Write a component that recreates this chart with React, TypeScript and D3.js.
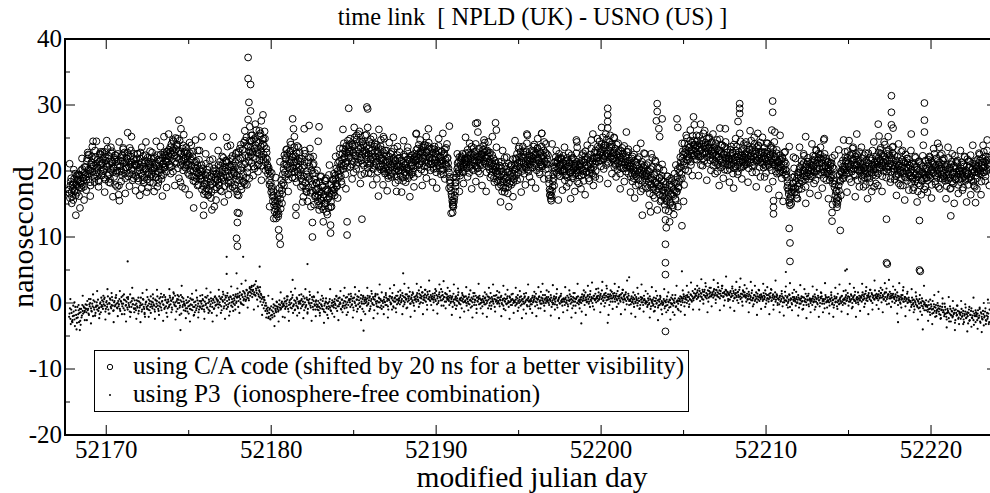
import React from "react";
import * as d3 from "d3";

// ---------- data ----------
const title = "time link  [ NPLD (UK) - USNO (US) ]";
const xLabel = "modified julian day";
const yLabel = "nanosecond";
const xMajorTicks = [52170, 52180, 52190, 52200, 52210, 52220];
const xMinorTicks = [52175, 52185, 52195, 52205, 52215];
const yMajorTicks = [-20, -10, 0, 10, 20, 30, 40];
const yMinorTicks = [-15, -5, 5, 15, 25, 35];
const legendLabels = [
  "using C/A code (shifted by 20 ns for a better visibility)",
  "using P3  (ionosphere-free combination)",
];

// sampling: one row per day starting at firstDay.
// A / B rows: 20 samples per day (B half a step after A); C rows: 8 samples per day.
const firstDay = 52167.75;
const lastDay = 52223.55;

// C/A code (shifted by +20 ns)
const caRowsA: number[][] = [
  [17.2, 15.9, 18.4, 16.8, 17.9, 15.6, 18.8, 17.1, 16.3, 19.2, 17.7, 18.6, 16.2, 19.4, 18.1, 17.4, 20.3, 18.9, 17.6, 19.8],
  [20.6, 18.7, 21.9, 19.5, 22.4, 20.1, 17.8, 21.3, 19.9, 24.5, 20.8, 18.9, 22.1, 20.4, 19.2, 21.7, 18.4, 22.6, 20.0, 21.2],
  [19.6, 21.8, 20.3, 22.9, 18.7, 21.1, 20.6, 19.3, 22.3, 20.9, 18.2, 21.5, 23.0, 19.8, 20.4, 22.0, 17.9, 21.4, 20.1, 22.6],
  [16.4, 15.5, 20.7, 22.1, 19.4, 21.6, 20.2, 22.8, 18.9, 21.3, 20.5, 25.8, 22.4, 19.7, 21.0, 23.1, 20.3, 18.6, 21.8, 20.9],
  [21.5, 19.2, 20.8, 22.6, 18.5, 20.1, 21.9, 19.6, 17.4, 20.7, 22.3, 19.0, 21.2, 20.4, 16.8, 22.0, 19.8, 21.4, 18.3, 20.6],
  [19.5, 21.3, 18.2, 20.6, 22.1, 19.0, 20.9, 17.6, 21.7, 19.8, 20.3, 22.5, 18.8, 21.0, 19.4, 22.8, 20.5, 21.6, 19.9, 23.0],
  [21.4, 23.2, 20.6, 22.9, 24.1, 21.8, 19.9, 23.5, 22.3, 25.0, 21.1, 23.8, 20.4, 27.7, 24.6, 18.3, 22.7, 17.6, 23.9, 21.6],
  [22.8, 20.5, 23.6, 21.3, 19.7, 22.4, 24.3, 20.1, 21.8, 19.2, 22.9, 14.4, 20.6, 18.4, 21.5, 19.8, 23.1, 17.9, 20.3, 18.8],
  [19.3, 17.2, 20.4, 13.3, 18.6, 16.9, 21.1, 18.0, 19.7, 16.4, 20.6, 17.8, 15.9, 19.1, 21.8, 25.2, 14.6, 18.3, 20.0, 17.5],
  [18.7, 20.9, 17.8, 21.4, 19.2, 16.9, 20.3, 22.0, 18.5, 19.9, 21.6, 25.1, 23.7, 18.1, 20.7, 17.4, 21.9, 19.6, 22.3, 20.2],
  [20.8, 17.9, 22.6, 19.3, 16.4, 21.7, 18.6, 23.4, 20.1, 17.2, 22.0, 19.5, 24.3, 18.0, 21.2, 25.1, 19.8, 23.7, 21.5, 24.6],
  [23.6, 21.2, 25.4, 22.1, 24.8, 20.4, 23.9, 26.2, 22.7, 19.9, 24.3, 21.6, 25.7, 23.0, 20.8, 24.1, 22.5, 26.0, 21.3, 23.4],
  [21.8, 19.6, 20.5, 17.9, 19.2, 16.8, 17.6, 15.4, 16.3, 13.9, 15.1, 12.8, 14.6, 16.2, 13.5, 17.4, 15.8, 18.6, 17.1, 19.5],
  [20.3, 22.4, 19.1, 21.8, 23.3, 20.6, 18.7, 22.9, 21.2, 24.0, 19.8, 22.1, 20.5, 23.6, 18.9, 21.4, 22.7, 20.0, 19.4, 21.9],
  [20.2, 17.6, 21.9, 18.4, 16.1, 20.8, 22.6, 17.3, 19.5, 15.4, 21.3, 18.8, 23.4, 16.7, 20.1, 18.0, 22.2, 14.9, 19.7, 17.1],
  [18.2, 16.0, 17.4, 14.8, 16.9, 19.1, 15.5, 17.8, 14.2, 16.4, 18.6, 15.1, 13.8, 17.2, 15.8, 19.4, 16.6, 14.5, 18.0, 17.0],
  [17.5, 19.6, 16.3, 18.9, 20.4, 17.8, 21.2, 19.0, 22.5, 20.1, 18.4, 21.7, 23.4, 20.8, 22.2, 19.5, 23.8, 21.4, 24.6, 22.0],
  [22.9, 20.6, 24.2, 21.5, 23.7, 19.8, 25.1, 22.3, 20.9, 24.8, 21.8, 23.3, 26.0, 22.0, 19.4, 24.5, 21.1, 23.9, 22.6, 25.4],
  [21.7, 23.8, 20.5, 22.6, 24.4, 21.2, 19.6, 23.1, 22.0, 25.2, 20.8, 22.9, 21.4, 24.0, 19.9, 23.5, 22.3, 20.7, 24.7, 21.6],
  [21.9, 20.2, 22.7, 19.6, 21.3, 23.1, 20.7, 18.9, 22.2, 21.0, 19.4, 22.9, 20.5, 21.8, 23.4, 19.9, 21.5, 20.3, 22.4, 18.6],
  [20.1, 22.0, 19.2, 21.4, 20.6, 18.5, 22.5, 19.8, 21.1, 20.3, 23.0, 18.9, 21.7, 20.0, 22.3, 19.5, 20.9, 21.8, 19.1, 22.1],
  [21.5, 23.2, 20.8, 22.6, 24.0, 21.1, 22.9, 20.2, 23.6, 21.9, 22.4, 19.9, 23.9, 21.3, 22.8, 20.6, 24.3, 22.1, 21.0, 23.4],
  [21.1, 22.8, 20.3, 23.3, 21.7, 19.8, 22.5, 20.9, 23.8, 21.4, 22.2, 20.0, 23.0, 21.6, 19.5, 22.7, 21.0, 23.5, 20.6, 22.0],
  [20.4, 19.1, 18.2, 17.0, 16.1, 15.2, 14.6, 15.8, 16.9, 18.3, 19.6, 21.2, 20.0, 22.1, 19.3, 21.6, 20.5, 22.6, 19.8, 21.3],
  [21.0, 22.7, 20.4, 23.2, 21.8, 19.7, 22.5, 20.9, 23.7, 21.3, 20.1, 22.9, 21.6, 24.1, 20.6, 22.2, 19.9, 23.4, 21.2, 22.0],
  [22.6, 20.9, 23.8, 21.5, 24.3, 22.0, 19.8, 23.1, 21.3, 22.7, 20.2, 21.8, 19.4, 22.4, 20.7, 18.9, 21.6, 19.9, 20.5, 18.4],
  [19.5, 17.6, 20.8, 18.3, 21.4, 16.9, 19.9, 18.7, 22.0, 17.4, 20.3, 19.0, 16.6, 21.1, 18.1, 20.6, 17.9, 19.7, 21.8, 18.8],
  [20.2, 21.9, 19.3, 22.6, 20.7, 23.4, 21.4, 18.8, 22.2, 20.0, 23.7, 21.1, 19.6, 22.9, 20.5, 24.2, 21.7, 19.9, 22.4, 21.0],
  [21.8, 23.1, 20.5, 22.4, 24.0, 21.2, 22.8, 20.1, 23.5, 21.6, 19.8, 22.9, 21.0, 23.7, 20.7, 22.2, 24.4, 21.4, 20.3, 22.6],
  [21.0, 19.4, 18.1, 16.4, 15.8, 16.2, 17.6, 19.5, 21.3, 20.0, 22.1, 19.7, 21.6, 20.4, 22.6, 19.2, 20.9, 21.8, 19.9, 22.3],
  [20.3, 18.6, 21.5, 19.4, 22.0, 20.7, 18.2, 21.2, 19.8, 22.4, 20.1, 18.9, 21.8, 19.5, 20.6, 22.7, 18.4, 21.0, 19.3, 20.8],
  [21.1, 19.3, 22.4, 20.0, 18.5, 21.7, 23.0, 19.8, 20.9, 22.1, 18.9, 21.4, 20.3, 23.4, 19.6, 21.9, 20.6, 22.8, 19.1, 21.5],
  [22.0, 23.7, 21.4, 24.5, 22.8, 20.7, 23.3, 25.1, 21.9, 23.9, 22.4, 20.9, 24.8, 22.6, 21.2, 23.6, 25.4, 22.2, 24.0, 21.7],
  [22.3, 20.6, 23.4, 21.1, 24.0, 20.2, 22.7, 21.5, 19.6, 23.1, 21.9, 22.6, 20.4, 23.8, 21.3, 19.9, 22.9, 20.8, 23.3, 21.6],
  [20.7, 19.1, 21.9, 18.4, 20.2, 22.5, 19.5, 17.8, 21.3, 20.0, 18.8, 22.1, 19.7, 16.9, 21.0, 18.5, 20.6, 22.7, 19.2, 17.6],
  [19.6, 17.4, 21.2, 18.8, 16.6, 20.3, 18.0, 22.0, 17.2, 19.4, 15.9, 21.4, 18.3, 16.8, 20.5, 17.7, 19.0, 15.4, 18.6, 21.0],
  [16.2, 18.4, 14.9, 17.5, 15.6, 19.2, 16.8, 13.9, 17.9, 15.2, 18.9, 16.4, 14.5, 17.2, 19.6, 15.8, 18.1, 16.9, 20.3, 17.6],
  [19.8, 22.1, 20.6, 18.9, 23.0, 21.4, 24.2, 20.2, 22.7, 25.0, 21.6, 23.5, 22.0, 24.6, 20.9, 23.2, 25.3, 22.4, 24.0, 21.8],
  [23.4, 21.7, 24.6, 22.2, 25.3, 23.0, 20.9, 24.1, 22.6, 25.7, 21.5, 23.8, 22.9, 24.9, 21.2, 23.5, 25.1, 22.4, 24.3, 23.1],
  [22.4, 20.8, 23.6, 21.3, 24.2, 22.0, 19.9, 23.1, 21.7, 24.8, 20.5, 22.7, 23.9, 21.1, 22.5, 20.2, 24.4, 21.9, 23.3, 22.1],
  [21.9, 20.3, 23.2, 21.0, 22.6, 19.6, 24.0, 21.5, 20.7, 23.7, 22.2, 19.9, 22.9, 21.3, 24.5, 20.5, 22.4, 21.7, 23.4, 20.9],
  [22.6, 21.0, 23.9, 21.8, 20.4, 23.3, 22.2, 24.6, 20.8, 22.9, 21.4, 24.1, 22.0, 19.8, 23.6, 21.6, 22.8, 20.6, 24.3, 21.9],
  [21.2, 22.9, 20.5, 23.5, 21.8, 19.7, 22.6, 24.2, 20.9, 22.3, 21.5, 23.8, 20.1, 22.7, 21.0, 24.4, 22.1, 19.9, 23.2, 21.4],
  [21.3, 19.7, 22.4, 20.6, 18.9, 21.9, 20.2, 22.8, 19.4, 21.1, 20.0, 18.3, 17.1, 15.6, 14.8, 16.2, 17.5, 19.0, 18.2, 20.4],
  [16.8, 18.5, 15.9, 17.7, 19.8, 18.1, 20.6, 19.0, 21.5, 18.4, 20.1, 22.3, 19.3, 17.6, 21.0, 19.7, 22.0, 18.8, 20.5, 19.2],
  [20.9, 19.2, 22.3, 20.0, 21.6, 18.6, 23.1, 20.4, 19.5, 22.0, 21.2, 23.6, 19.8, 21.7, 20.3, 18.9, 22.6, 20.7, 21.9, 19.6],
  [19.9, 21.4, 18.6, 20.8, 19.3, 22.0, 18.1, 20.4, 17.5, 16.3, 15.2, 14.5, 16.0, 17.8, 19.5, 18.4, 21.1, 19.7, 20.6, 18.9],
  [20.2, 22.1, 19.5, 21.6, 23.0, 20.7, 18.8, 22.4, 21.0, 19.9, 23.4, 20.4, 21.8, 19.3, 22.7, 20.9, 18.6, 21.5, 22.9, 20.1],
  [20.6, 18.8, 21.9, 19.5, 22.4, 20.1, 17.9, 21.3, 19.0, 22.7, 20.4, 18.3, 21.6, 19.7, 23.1, 20.9, 17.6, 21.0, 19.3, 22.2],
  [21.4, 19.6, 22.8, 20.5, 23.5, 21.1, 19.2, 22.3, 20.7, 24.0, 21.8, 19.9, 22.6, 20.2, 23.2, 21.5, 18.8, 22.0, 20.9, 23.7],
  [20.3, 18.7, 21.6, 19.4, 22.2, 20.8, 18.1, 21.1, 19.8, 22.9, 20.0, 17.8, 21.4, 19.1, 22.5, 20.6, 18.5, 21.9, 19.6, 20.9],
  [19.8, 18.2, 21.1, 19.0, 17.5, 20.6, 22.0, 18.7, 20.2, 16.9, 21.4, 19.4, 17.8, 20.9, 18.5, 22.3, 19.6, 17.2, 20.4, 18.9],
  [20.4, 18.6, 21.7, 19.3, 22.1, 20.0, 17.9, 21.2, 19.7, 22.6, 18.4, 20.8, 19.1, 21.5, 17.6, 20.3, 22.4, 19.5, 21.0, 18.8],
  [19.2, 21.0, 18.5, 20.6, 17.7, 19.9, 22.0, 18.9, 20.3, 17.4, 21.4, 19.5, 18.1, 20.8, 22.3, 18.7, 19.8, 21.6, 17.9, 20.1],
  [20.0, 18.3, 21.3, 19.6, 17.5, 20.7, 22.1, 18.8, 19.4, 21.8, 17.9, 20.5, 19.0, 22.4, 18.6, 20.2, 21.1, 17.8, 19.9, 21.5],
  [20.4, 18.9, 21.8, 19.6, 22.5, 20.1, 18.4, 21.3, 19.8, 22.9, 20.6, 19.2, 21.6, 23.1, 20.3, 22.0, 21.2, 19.7, 20.8, 22.4],
];

const caRowsB: number[][] = [
  [16.6, 17.8, 18.9, 16.1, 17.3, 18.2, 16.9, 19.6, 18.0, 16.7, 18.7, 19.3, 17.5, 18.4, 20.1, 17.9, 19.0, 18.5, 20.6, 19.4],
  [19.1, 21.5, 22.8, 20.2, 19.6, 18.3, 21.0, 22.2, 20.7, 19.4, 21.8, 23.1, 21.1, 19.8, 20.5, 18.6, 21.4, 20.9, 22.5, 19.3],
  [21.2, 20.0, 19.0, 22.2, 21.6, 20.7, 23.4, 21.9, 19.5, 18.8, 20.2, 22.7, 21.3, 20.6, 19.1, 21.7, 22.4, 19.7, 20.9, 21.5],
  [17.8, 19.9, 21.5, 20.0, 22.4, 23.3, 21.2, 19.6, 20.6, 22.0, 21.8, 19.2, 20.7, 23.5, 22.2, 21.4, 19.5, 20.1, 22.6, 21.1],
  [20.9, 21.8, 19.9, 18.9, 21.1, 20.5, 22.8, 21.3, 19.3, 18.6, 20.0, 21.6, 22.4, 20.3, 18.7, 19.5, 21.2, 20.8, 19.1, 21.9],
  [20.1, 19.2, 21.9, 20.4, 19.6, 21.2, 22.4, 20.0, 18.7, 20.7, 21.5, 19.3, 20.2, 22.0, 21.1, 20.6, 22.3, 21.4, 22.9, 21.8],
  [22.2, 21.0, 23.6, 22.5, 20.7, 23.1, 24.5, 22.8, 21.4, 23.3, 22.0, 24.9, 23.0, 21.8, 22.6, 20.9, 21.5, 23.4, 22.1, 20.8],
  [21.9, 23.0, 20.9, 22.1, 21.0, 19.4, 22.7, 21.6, 20.8, 22.2, 20.0, 19.1, 21.3, 20.4, 18.9, 20.9, 19.6, 21.7, 19.3, 20.0],
  [18.8, 19.9, 17.7, 16.5, 18.1, 19.4, 17.4, 20.2, 18.9, 17.1, 19.2, 18.4, 16.8, 18.0, 20.0, 19.5, 17.2, 18.9, 19.6, 18.6],
  [19.4, 18.2, 20.0, 20.8, 18.8, 19.7, 21.1, 19.0, 17.7, 20.5, 19.3, 21.3, 20.1, 18.6, 19.2, 20.6, 18.3, 20.9, 21.7, 19.8],
  [19.6, 21.4, 18.7, 16.9, 20.3, 22.9, 19.1, 21.9, 17.7, 20.6, 23.2, 18.3, 21.0, 22.4, 19.0, 23.9, 20.5, 22.2, 18.9, 22.8],
  [22.4, 24.6, 22.9, 20.7, 23.4, 25.0, 21.9, 24.4, 23.2, 21.0, 22.6, 25.3, 23.7, 22.2, 24.7, 21.7, 23.8, 24.9, 22.0, 22.8],
  [20.9, 20.2, 18.6, 19.9, 18.2, 17.3, 16.2, 16.9, 14.8, 15.6, 14.2, 13.4, 15.4, 13.1, 15.0, 16.6, 14.3, 17.9, 16.5, 18.2],
  [21.0, 19.8, 22.0, 20.9, 22.6, 19.5, 21.5, 20.2, 23.1, 21.7, 20.4, 22.5, 21.3, 19.9, 22.2, 20.8, 23.8, 21.6, 20.6, 22.8],
  [19.4, 18.9, 20.5, 17.8, 19.2, 21.4, 18.2, 16.9, 20.0, 19.1, 17.5, 20.7, 22.0, 18.5, 17.0, 19.6, 21.1, 18.7, 16.3, 18.2],
  [17.2, 15.4, 16.3, 18.4, 15.9, 16.7, 14.6, 17.5, 16.0, 15.0, 17.1, 18.9, 15.6, 16.9, 14.4, 16.1, 17.9, 15.3, 16.5, 18.7],
  [18.6, 17.2, 19.3, 18.1, 17.6, 20.0, 19.5, 21.5, 20.6, 19.2, 21.1, 22.6, 20.3, 21.9, 23.0, 21.2, 22.8, 20.6, 23.3, 23.9],
  [23.2, 22.1, 21.0, 24.0, 22.8, 21.4, 23.9, 22.4, 25.4, 23.0, 21.3, 22.7, 24.4, 23.5, 21.6, 22.9, 24.1, 20.8, 23.1, 22.3],
  [22.8, 21.1, 22.3, 23.4, 20.9, 21.8, 24.1, 22.6, 20.3, 21.5, 23.7, 22.2, 21.0, 23.0, 22.7, 20.6, 21.9, 23.8, 22.0, 23.2],
  [20.8, 21.6, 19.9, 20.4, 22.3, 21.5, 19.3, 20.1, 21.7, 22.6, 20.6, 19.7, 21.2, 22.0, 20.9, 21.6, 19.2, 20.7, 21.9, 20.0],
  [20.8, 19.6, 21.6, 20.2, 19.0, 21.2, 20.9, 22.2, 19.4, 20.5, 21.8, 20.1, 19.3, 22.0, 20.7, 21.3, 19.8, 20.4, 22.6, 20.9],
  [22.2, 21.6, 23.4, 21.9, 20.9, 22.5, 23.0, 21.4, 22.8, 23.6, 20.7, 22.3, 21.7, 22.9, 23.8, 21.2, 22.0, 23.2, 21.5, 22.6],
  [21.8, 20.6, 22.1, 21.3, 22.6, 20.4, 21.2, 23.1, 22.0, 20.8, 21.5, 22.9, 21.1, 20.2, 22.4, 23.3, 21.7, 20.9, 21.9, 21.2],
  [19.8, 18.6, 17.6, 16.5, 15.5, 14.9, 15.3, 16.3, 17.7, 19.0, 20.3, 20.6, 21.4, 19.7, 20.9, 22.2, 19.9, 21.1, 20.6, 21.8],
  [21.6, 20.9, 22.0, 21.4, 22.8, 20.6, 21.9, 22.6, 20.3, 21.7, 22.4, 21.2, 20.8, 22.9, 21.5, 20.4, 22.2, 21.8, 20.9, 22.5],
  [22.1, 23.2, 21.4, 22.8, 21.1, 23.0, 21.9, 22.4, 20.6, 21.5, 22.8, 20.9, 21.2, 20.3, 21.9, 20.1, 20.7, 21.2, 19.6, 20.0],
  [18.6, 19.9, 19.2, 17.9, 20.4, 18.5, 17.5, 19.3, 20.7, 18.9, 18.2, 19.8, 17.6, 20.0, 19.4, 18.4, 20.9, 19.1, 18.3, 19.6],
  [20.9, 20.4, 21.8, 21.2, 19.8, 22.1, 20.6, 22.9, 21.5, 20.3, 21.9, 22.5, 20.7, 21.3, 23.0, 21.0, 20.2, 22.0, 21.6, 20.5],
  [22.2, 21.4, 21.9, 23.0, 20.8, 22.5, 21.7, 23.4, 22.0, 20.6, 21.3, 22.7, 21.9, 20.9, 22.4, 23.1, 21.5, 22.8, 21.1, 21.8],
  [20.4, 18.8, 17.2, 16.9, 15.5, 17.0, 18.4, 18.9, 20.5, 21.4, 20.7, 21.2, 19.4, 21.9, 20.8, 20.1, 22.0, 20.6, 21.3, 20.2],
  [20.0, 19.3, 20.9, 21.6, 19.0, 20.4, 21.3, 19.7, 20.6, 21.8, 19.2, 20.3, 21.1, 20.8, 19.6, 21.4, 20.1, 19.8, 20.7, 21.2],
  [20.5, 21.6, 20.1, 19.5, 21.3, 22.2, 20.4, 19.9, 21.8, 20.7, 19.7, 22.5, 21.0, 20.2, 21.4, 19.4, 22.0, 21.2, 20.0, 21.9],
  [22.8, 22.1, 23.4, 21.6, 22.9, 24.0, 22.4, 21.8, 23.5, 22.2, 23.9, 22.6, 21.4, 23.2, 24.4, 22.0, 23.0, 23.7, 21.9, 22.7],
  [21.9, 22.8, 20.9, 21.6, 22.4, 21.2, 23.0, 20.7, 22.1, 21.4, 20.4, 22.6, 21.8, 21.0, 22.2, 20.5, 21.5, 22.9, 21.1, 20.8],
  [20.3, 21.2, 19.6, 20.7, 18.9, 21.5, 20.0, 19.2, 20.9, 21.8, 19.8, 20.4, 18.6, 20.2, 21.4, 19.5, 19.9, 20.8, 18.8, 19.4],
  [19.2, 20.1, 18.4, 19.9, 17.9, 19.0, 20.6, 18.7, 17.6, 19.5, 18.2, 17.1, 19.8, 18.0, 17.3, 18.9, 16.4, 17.8, 19.3, 17.0],
  [17.1, 15.9, 16.7, 18.0, 15.4, 17.3, 16.1, 18.6, 15.0, 16.6, 17.7, 14.8, 16.2, 18.3, 17.0, 15.6, 16.8, 19.1, 17.4, 18.4],
  [20.6, 21.3, 19.5, 21.9, 22.5, 20.9, 22.8, 23.3, 21.7, 22.2, 24.0, 22.9, 23.6, 21.4, 22.6, 24.3, 23.1, 23.9, 22.3, 23.5],
  [22.8, 23.9, 22.5, 23.5, 24.1, 22.2, 23.2, 24.6, 21.9, 23.7, 22.6, 24.3, 23.4, 22.1, 24.0, 22.7, 23.6, 21.6, 23.0, 24.4],
  [21.8, 22.7, 23.1, 21.5, 22.4, 23.4, 21.0, 22.2, 23.0, 21.6, 22.9, 21.3, 20.8, 22.6, 23.7, 22.0, 21.4, 22.8, 20.9, 21.7],
  [21.5, 22.4, 20.8, 21.8, 22.8, 21.2, 20.4, 22.1, 23.1, 21.6, 20.9, 22.5, 21.9, 20.6, 22.3, 23.0, 21.4, 20.7, 22.0, 21.3],
  [22.0, 22.9, 21.5, 22.4, 23.2, 21.2, 22.7, 21.8, 23.5, 22.2, 20.9, 22.6, 23.0, 21.6, 22.3, 23.8, 21.9, 22.5, 21.3, 22.8],
  [21.7, 21.0, 22.3, 22.8, 20.8, 21.5, 23.0, 22.0, 21.2, 20.6, 22.5, 21.9, 21.3, 23.3, 22.2, 20.9, 21.6, 22.7, 21.1, 20.5],
  [20.6, 21.7, 20.0, 21.0, 22.1, 19.8, 20.9, 21.4, 20.2, 19.5, 19.0, 17.8, 16.5, 15.2, 15.9, 15.0, 16.8, 18.1, 17.3, 19.2],
  [17.4, 16.4, 18.9, 19.4, 17.2, 20.3, 19.8, 18.6, 20.9, 19.6, 21.2, 20.0, 18.7, 20.7, 19.2, 21.4, 20.3, 19.5, 21.1, 20.0],
  [20.3, 21.7, 20.6, 19.8, 22.2, 21.1, 20.0, 21.6, 22.6, 20.4, 19.4, 21.9, 21.2, 20.6, 22.1, 19.9, 20.8, 21.5, 20.2, 21.3],
  [20.4, 19.6, 20.1, 19.0, 21.2, 20.6, 19.3, 18.6, 18.0, 16.9, 15.8, 15.0, 15.6, 17.0, 18.6, 19.9, 20.0, 18.9, 20.3, 19.4],
  [20.7, 21.4, 20.1, 22.0, 21.2, 19.7, 20.5, 21.9, 20.3, 22.6, 21.6, 19.5, 20.9, 22.2, 21.0, 20.2, 21.7, 20.6, 19.9, 21.2],
  [20.1, 19.3, 21.2, 20.5, 19.0, 20.8, 21.6, 19.6, 20.3, 21.1, 18.9, 20.0, 20.7, 21.9, 19.4, 20.2, 21.3, 19.8, 20.6, 21.6],
  [21.0, 22.0, 20.3, 21.7, 22.6, 20.8, 21.4, 20.0, 22.2, 21.2, 20.5, 23.0, 21.6, 20.7, 22.4, 21.1, 19.9, 21.8, 22.7, 20.4],
  [19.9, 20.7, 19.2, 21.0, 20.3, 19.5, 21.5, 20.1, 18.9, 20.6, 21.7, 19.6, 20.4, 21.2, 19.0, 20.0, 21.3, 20.5, 19.3, 20.8],
  [19.3, 20.2, 18.8, 19.7, 21.0, 18.4, 19.5, 20.6, 19.1, 18.1, 20.0, 21.2, 19.6, 18.6, 19.9, 20.7, 18.9, 19.4, 21.6, 19.0],
  [20.0, 21.1, 19.5, 20.6, 19.0, 21.5, 20.3, 19.7, 21.0, 20.5, 19.3, 21.9, 20.1, 19.6, 20.9, 21.3, 18.9, 20.4, 20.0, 21.6],
  [19.7, 18.9, 20.2, 19.3, 20.9, 18.6, 19.5, 20.5, 19.0, 21.0, 18.4, 19.8, 20.6, 19.1, 18.8, 20.4, 21.2, 19.4, 18.7, 19.9],
  [19.5, 20.4, 18.9, 19.9, 21.0, 19.2, 18.5, 20.1, 20.8, 19.6, 18.8, 20.6, 21.4, 19.1, 19.7, 20.3, 18.4, 19.8, 20.9, 19.3],
  [20.7, 19.9, 21.2, 20.3, 21.6, 19.5, 20.9, 21.9, 20.5, 19.8, 21.4, 22.2, 20.0, 21.0, 21.7, 20.6, 22.0, 21.3, 20.2, 21.5],
];

const caRowsC: number[][] = [
  [21.1, 15.1, 20.2, 13.3, 19.5, 14.4, 21.9, 15.6],
  [17.1, 22.5, 16.2, 23.7, 18.3, 24.5, 17.6, 22.9],
  [22.9, 16.8, 24.6, 18.3, 23.6, 16.1, 22.4, 17.6],
  [24.4, 18.4, 23.5, 16.6, 22.8, 17.7, 25.2, 18.9],
  [17.0, 22.6, 16.3, 23.6, 18.2, 24.4, 17.5, 23.0],
  [22.8, 16.9, 24.5, 18.2, 23.7, 16.2, 22.5, 17.5],
  [25.6, 19.6, 24.7, 17.8, 24.0, 18.9, 26.4, 20.1],
  [17.3, 22.7, 16.4, 23.9, 18.5, 24.7, 17.8, 23.1],
  [20.9, 14.8, 22.6, 16.3, 21.6, 14.1, 20.4, 15.6],
  [23.1, 17.1, 22.2, 15.3, 21.5, 16.4, 23.9, 17.6],
  [17.4, 22.8, 16.3, 24.0, 18.4, 24.6, 17.9, 23.0],
  [25.4, 19.3, 27.1, 20.8, 26.1, 18.6, 24.9, 20.1],
  [20.6, 14.6, 19.7, 12.8, 19.0, 13.9, 21.4, 15.1],
  [17.8, 23.2, 16.9, 24.4, 19.0, 25.2, 18.3, 23.6],
  [21.4, 15.3, 23.1, 16.8, 22.1, 14.6, 20.9, 16.1],
  [20.1, 14.1, 19.2, 12.3, 18.5, 13.4, 20.9, 14.6],
  [16.8, 22.2, 15.9, 23.4, 18.0, 24.2, 17.3, 22.6],
  [24.9, 18.8, 26.6, 20.3, 25.6, 18.1, 24.4, 19.6],
  [25.5, 19.7, 24.8, 17.9, 24.1, 18.8, 26.3, 20.2],
  [17.9, 23.1, 17.0, 24.3, 19.1, 25.1, 18.2, 23.7],
  [22.9, 16.8, 24.6, 18.3, 23.6, 16.1, 22.4, 17.6],
  [25.6, 19.6, 24.7, 17.8, 24.0, 18.9, 26.4, 20.1],
  [18.3, 23.7, 17.4, 24.9, 19.5, 25.7, 18.8, 24.1],
  [17.4, 13.6, 19.0, 18.2, 22.6, 16.9, 21.9, 18.1],
  [25.1, 19.1, 24.2, 17.3, 23.5, 18.4, 25.9, 19.6],
  [17.8, 23.2, 16.9, 24.4, 19.0, 25.2, 18.3, 23.6],
  [21.4, 15.3, 23.1, 16.8, 22.1, 14.6, 20.9, 16.1],
  [24.6, 18.6, 23.7, 16.8, 23.0, 17.9, 25.4, 19.1],
  [18.3, 23.7, 17.4, 24.9, 19.5, 25.7, 18.8, 24.1],
  [22.4, 16.3, 24.1, 17.8, 23.1, 15.6, 21.9, 17.1],
  [23.6, 17.6, 22.7, 15.8, 22.0, 16.9, 24.4, 18.1],
  [17.3, 22.7, 16.4, 23.9, 18.5, 24.7, 17.8, 23.1],
  [24.9, 18.8, 26.6, 20.3, 25.6, 18.1, 24.4, 19.6],
  [25.1, 19.1, 24.2, 17.3, 23.5, 18.4, 25.9, 19.6],
  [16.8, 22.2, 15.9, 23.4, 18.0, 24.2, 17.3, 22.6],
  [20.9, 14.8, 22.6, 16.3, 21.6, 14.1, 20.4, 15.6],
  [20.1, 14.1, 19.2, 12.3, 18.5, 13.4, 20.9, 14.6],
  [18.8, 24.2, 17.9, 25.4, 20.0, 26.2, 19.3, 24.6],
  [25.4, 19.3, 27.1, 20.8, 26.1, 18.6, 24.9, 20.1],
  [25.6, 19.6, 24.7, 17.8, 24.0, 18.9, 26.4, 20.1],
  [18.3, 23.7, 17.4, 24.9, 19.5, 25.7, 18.8, 24.1],
  [24.4, 18.3, 26.1, 19.8, 25.1, 17.6, 23.9, 19.1],
  [25.1, 19.1, 24.2, 17.3, 23.5, 18.4, 25.9, 19.6],
  [16.3, 21.7, 15.4, 22.9, 17.5, 23.7, 16.8, 22.1],
  [21.9, 15.8, 23.6, 17.3, 22.6, 15.1, 21.4, 16.6],
  [24.1, 18.1, 23.2, 16.3, 22.5, 17.4, 24.9, 18.6],
  [15.8, 21.2, 14.9, 22.4, 17.0, 23.2, 16.3, 21.6],
  [22.9, 16.8, 24.6, 18.3, 23.6, 16.1, 22.4, 17.6],
  [23.6, 17.6, 22.7, 15.8, 22.0, 16.9, 24.4, 18.1],
  [17.8, 23.2, 16.9, 24.4, 19.0, 25.2, 18.3, 23.6],
  [22.4, 16.3, 24.1, 17.8, 23.1, 15.6, 21.9, 17.1],
  [23.1, 17.1, 22.2, 15.3, 21.5, 16.4, 23.9, 17.6],
  [16.8, 22.2, 15.9, 23.4, 18.0, 24.2, 17.3, 22.6],
  [21.9, 15.8, 23.6, 17.3, 22.6, 15.1, 21.4, 16.6],
  [23.1, 17.1, 22.2, 15.3, 21.5, 16.4, 23.9, 17.6],
  [17.3, 22.7, 16.4, 23.9, 18.5, 24.7, 17.8, 23.1],
];

// isolated C/A points (outliers)
const caExtraDay = [
  52173.5, 52174.7, 52175.8, 52178.6, 52178.6, 52178.75, 52178.65, 52178.75, 52178.6, 52178.7, 52178.4,
  52179.5, 52179.4, 52181.3, 52181.35, 52182.3, 52182.0, 52182.9, 52182.85, 52177.95, 52177.95, 52177.9,
  52177.95, 52178.05, 52180.45, 52180.5, 52180.55, 52181.5, 52181.5, 52182.5, 52182.5, 52183.6, 52183.6,
  52184.6, 52184.6, 52185.5, 52186.5, 52187.6, 52184.7, 52185.8, 52185.85, 52184.35, 52185.85, 52186.8,
  52186.85, 52188.8, 52189.4, 52190.8, 52192.4, 52192.5, 52193.6, 52193.65, 52192.9, 52195.5, 52191.0,
  52191.0, 52196.4, 52198.5, 52198.55, 52199.5, 52200.4, 52200.4, 52200.4, 52200.4, 52200.8, 52202.5,
  52203.0, 52203.4, 52203.4, 52203.35, 52203.7, 52203.5, 52203.55, 52203.9, 52203.95, 52203.9, 52203.9,
  52203.9, 52203.9, 52204.6, 52204.65, 52204.9, 52205.0, 52205.6, 52205.65, 52207.2, 52208.4, 52208.4,
  52208.4, 52208.3, 52209.5, 52210.4, 52210.4, 52210.35, 52210.85, 52210.45, 52210.45, 52210.45, 52211.4,
  52211.45, 52211.45, 52212.4, 52213.5, 52214.7, 52214.0, 52214.5, 52214.0, 52215.5, 52216.8, 52216.85,
  52217.3, 52217.3, 52217.35, 52217.6, 52217.6, 52217.6, 52217.7, 52218.8, 52219.3, 52219.3, 52219.35,
  52219.6, 52219.6, 52219.6, 52220.5, 52221.2, 52222.7,
];
const caExtraVal = [
  25.2, 25.5, 25.2, 37.2, 34.0, 33.1, 30.4, 29.1, 27.8, 26.7, 26.1,
  28.5, 27.6, 27.9, 26.4, 26.9, 26.4, 26.7, 24.5, 13.7, 12.2, 9.8,
  8.6, 13.6, 11.1, 10.0, 8.9, 14.5, 13.3, 12.2, 10.0, 11.8, 10.6,
  12.3, 10.3, 12.7, 16.2, 16.9, 29.5, 29.7, 29.4, 26.3, 26.6, 25.2,
  24.9, 25.7, 25.2, 26.8, 27.2, 27.3, 27.3, 26.2, 24.7, 25.6, 14.7,
  13.7, 25.7, 24.7, 23.6, 25.6, 29.5, 28.5, 27.5, 26.5, 25.0, 13.3,
  13.8, 30.2, 29.0, 27.6, 27.9, 26.4, 25.2, 12.6, 11.4, 8.9, 6.1,
  4.3, -4.3, 27.9, 26.6, 11.7, 15.4, 28.2, 27.0, 26.5, 30.2, 29.5,
  28.7, 27.5, 25.7, 30.6, 28.9, 26.2, 25.4, 15.5, 14.5, 13.5, 11.3,
  9.1, 6.3, 25.2, 24.7, 24.7, 12.4, 11.0, 13.7, 25.6, 27.1, 25.3,
  12.7, 6.1, 5.9, 31.4, 28.9, 27.0, 26.5, 25.6, 12.5, 5.0, 4.8,
  30.3, 27.7, 25.9, 23.6, 13.2, 15.2,
];

// P3 (ionosphere-free combination)
const p3RowsA: number[][] = [
  [-2.1, -0.8, -3.2, -1.5, -2.6, -0.4, -1.9, -3.5, -1.1, -2.3, -0.6, -1.7, -2.9, -0.9, -1.4, -2.2, -0.3, -1.6, -0.7, -1.2],
  [-0.2, -1.4, 0.3, -0.9, -1.8, -0.5, 0.6, -1.2, -0.1, -2.0, -0.7, 0.2, -1.5, -0.4, -1.0, 0.5, -0.8, -1.7, 0.1, -0.6],
  [0.4, -0.9, -0.2, 0.8, -1.3, 0.1, -0.6, 1.0, -1.6, -0.1, 0.5, -0.8, 0.9, -0.4, -1.1, 0.3, -0.3, 1.2, -0.7, 0.0],
  [-0.5, 0.6, -1.2, 0.2, -0.1, 1.1, -0.8, -1.7, 0.4, -0.3, 0.8, -1.0, 0.0, -0.6, 1.3, -1.4, 0.3, -0.2, 0.7, -0.9],
  [-0.3, -1.1, 0.4, -0.7, -1.6, 0.2, -0.4, 0.8, -1.3, -0.2, 0.5, -0.9, -2.1, 0.1, -0.6, 0.9, -1.0, -0.1, 0.3, -1.5],
  [0.2, -0.8, 0.7, -0.4, -1.3, 0.4, -0.1, 1.0, -0.9, 0.1, -0.5, 0.9, -1.1, 0.3, -0.2, 1.2, -0.7, 0.5, -1.5, 0.0],
  [0.5, -0.6, 1.1, -0.2, 0.3, -1.0, 0.8, 1.4, -0.4, 0.1, -1.3, 0.6, 0.0, 1.0, -0.7, 0.4, -1.6, 0.9, -0.3, 0.2],
  [-0.2, -1.2, 0.4, -0.8, 0.1, -1.6, -0.4, 0.7, -1.0, -0.3, 0.5, -1.9, -0.6, 0.2, -1.1, 0.8, -0.5, -1.4, 0.3, -0.7],
  [0.3, -0.9, 0.6, -0.4, -1.3, 0.9, -0.1, -0.7, 1.1, -1.0, 0.2, -0.5, 0.7, -1.5, 0.0, 0.4, -0.8, 1.0, -0.3, 0.5],
  [0.2, -0.7, 1.0, -0.3, 0.6, -1.1, 0.4, 1.3, -0.5, 0.0, 0.8, -0.9, 1.5, -0.2, 0.5, -1.3, 0.9, 0.1, -0.6, 1.2],
  [0.7, -0.3, 1.3, 0.2, 1.0, -0.6, 0.9, 1.6, 0.1, 1.2, -0.2, 1.8, 0.6, 1.4, 0.3, 2.0, 0.8, 1.5, 0.4, 2.2],
  [1.6, 2.4, 0.9, 2.0, 1.3, 2.8, 1.1, 1.9, 0.5, 2.3, 1.0, 1.7, 0.2, 1.2, -0.3, 0.8, -0.8, 0.4, -1.2, -0.4],
  [-1.6, -0.7, -2.1, -1.0, -2.5, -0.5, -1.8, -1.3, -0.2, -2.0, -0.9, -1.4, 0.1, -0.6, -1.1, 0.4, -0.3, -0.8, 0.2, -0.5],
  [-0.1, 0.7, -0.9, 0.3, -0.5, 1.0, -1.3, 0.1, -0.2, 0.6, -0.8, 1.2, -0.4, 0.4, -1.0, 0.0, 0.8, -0.6, 0.2, -1.5],
  [0.3, -0.8, 0.6, -0.3, 1.0, -1.1, 0.1, -0.5, 0.8, -1.4, 0.4, -0.1, 1.2, -0.7, 0.0, 0.5, -1.0, 0.9, -0.4, 0.2],
  [-0.2, -1.0, 0.3, -0.6, -1.5, 0.5, -0.3, -0.9, 0.7, -1.3, -0.1, 0.2, -0.8, -1.8, 0.0, -0.5, 0.6, -1.1, -0.4, 0.4],
  [0.1, -0.7, 0.6, -0.3, 1.0, -1.2, 0.3, -0.5, 0.8, -0.1, -1.0, 0.5, -0.4, 1.1, -0.8, 0.2, -0.2, 0.9, -1.4, 0.4],
  [0.4, -0.6, 1.0, -0.2, 0.7, -1.1, 0.2, 1.3, -0.4, 0.5, -0.9, 0.9, 0.0, -0.5, 1.2, -0.1, 0.6, -1.3, 0.3, 0.8],
  [0.5, -0.4, 1.1, 0.0, 0.8, -0.9, 0.3, 1.4, -0.2, 0.6, -1.1, 1.0, 0.2, -0.5, 1.3, 0.1, 0.7, -0.7, 0.4, 1.6],
  [0.3, -0.6, 0.9, 0.1, 1.2, -0.3, 0.6, -1.0, 0.4, 1.0, -0.2, 0.7, 1.5, -0.5, 0.2, 0.8, -0.8, 0.5, 1.1, 0.0],
  [0.7, -0.2, 1.2, 0.3, 1.5, -0.5, 0.9, 0.1, 1.3, 0.6, -0.7, 1.0, 0.4, 1.7, -0.1, 0.8, 0.2, 1.4, -0.4, 0.5],
  [1.0, 0.2, 1.5, 0.5, 1.9, -0.1, 1.2, 0.7, 1.6, 0.0, 1.1, 0.4, 2.0, 0.8, -0.3, 1.3, 0.6, 1.8, 0.3, 0.9],
  [0.6, 1.4, 0.1, 1.1, 0.5, 1.8, -0.2, 1.0, 0.3, 1.6, 0.8, 2.1, 0.4, 1.2, -0.4, 0.9, 1.5, 0.2, 1.3, 0.7],
  [0.5, -0.3, 1.1, 0.2, 0.8, -0.6, 1.4, 0.0, 0.6, 1.0, -0.4, 0.3, 1.6, -0.1, 0.7, 0.4, -0.8, 1.2, 0.1, 0.9],
  [0.2, 1.0, -0.4, 0.6, -0.1, 1.3, 0.4, -0.7, 0.8, 0.1, 1.5, -0.3, 0.5, 1.1, -0.9, 0.3, 0.9, -0.2, 0.7, 0.0],
  [0.4, -0.5, 1.0, 0.1, 0.7, -0.2, 1.3, 0.3, -0.8, 0.9, 0.0, 1.5, -0.4, 0.6, 0.2, 1.1, -0.6, 0.5, 1.2, -0.1],
  [0.1, 0.8, -0.5, 0.4, 1.1, -0.2, 0.6, -0.9, 0.3, 1.3, -0.1, 0.7, 0.0, -0.6, 1.0, 0.2, 0.5, -0.3, 1.4, 0.4],
  [0.3, -0.4, 0.9, 0.0, 1.2, -0.7, 0.5, 0.2, 1.0, -0.2, 0.6, -1.0, 0.8, 0.1, 1.5, -0.3, 0.4, 0.9, -0.5, 0.2],
  [0.6, -0.2, 1.1, 0.3, 0.8, -0.5, 1.4, 0.1, 0.5, -0.8, 1.0, 0.4, 1.7, -0.1, 0.7, 0.2, -0.4, 1.2, 0.0, 0.9],
  [0.2, 0.9, -0.3, 0.5, 1.2, -0.6, 0.4, 0.0, 1.0, -0.2, 0.7, 1.4, -0.7, 0.3, 0.8, -0.1, 1.1, 0.1, -0.4, 0.6],
  [0.5, -0.3, 0.8, 0.1, 1.1, -0.5, 0.4, 1.3, -0.1, 0.6, -0.8, 0.9, 0.2, 1.5, -0.4, 0.7, 0.0, 1.0, -0.2, 0.3],
  [0.8, 0.0, 1.3, 0.4, 1.0, -0.3, 1.6, 0.5, 0.2, 1.2, -0.1, 0.9, 1.8, 0.3, 0.7, -0.5, 1.1, 0.6, 1.4, 0.1],
  [1.0, 0.3, 1.6, 0.6, 1.2, -0.1, 1.9, 0.8, 0.4, 1.4, 0.0, 1.1, 2.2, 0.5, 0.9, -0.3, 1.3, 0.7, 1.7, 0.2],
  [0.9, 1.5, 0.2, 1.1, 0.6, 1.8, -0.1, 1.0, 0.4, 1.3, 0.7, 2.0, 0.1, 1.2, 0.5, 1.6, -0.2, 0.8, 1.4, 0.3],
  [0.5, -0.2, 1.0, 0.2, 0.8, -0.6, 1.2, 0.0, 0.6, -0.4, 1.4, 0.3, -0.8, 0.9, 0.1, 0.7, -0.3, 1.1, 0.4, -0.1],
  [0.2, -0.6, 0.7, -0.2, 1.0, -0.9, 0.4, 0.0, -0.4, 0.8, -1.2, 0.3, -0.1, 1.1, -0.7, 0.5, -0.3, 0.9, -1.0, 0.1],
  [-0.2, 0.6, -0.8, 0.3, -0.4, 1.0, -1.1, 0.1, 0.5, -0.6, 0.8, -0.1, -1.4, 0.4, 0.0, 1.2, -0.5, 0.2, -0.9, 0.7],
  [0.3, 1.0, -0.3, 0.7, 0.1, 1.3, -0.5, 0.6, 1.1, 0.0, 0.9, 1.6, -0.2, 0.5, 1.2, 0.2, 1.8, 0.4, 0.8, 1.4],
  [1.4, 0.6, 1.9, 1.0, 2.2, 0.3, 1.5, 0.9, 2.0, 0.5, 1.7, 1.1, 2.5, 0.7, 1.3, 0.2, 1.8, 1.0, 2.3, 1.2],
  [1.6, 0.8, 2.1, 1.2, 0.5, 1.9, 1.0, 2.4, 1.4, 0.7, 1.8, 1.1, 2.6, 0.9, 1.5, 0.4, 2.0, 1.3, 1.7, 0.6],
  [1.3, 0.5, 1.8, 1.0, 2.2, 0.3, 1.5, 0.8, 2.0, 1.1, 0.4, 1.7, 0.9, 2.4, 0.6, 1.4, 0.2, 1.9, 1.0, 1.6],
  [0.9, 0.2, 1.4, 0.6, 1.7, 0.0, 1.1, 0.4, 1.9, 0.7, -0.2, 1.2, 0.5, 1.6, 0.1, 1.0, 2.0, 0.3, 0.8, 1.3],
  [1.0, 0.3, 1.5, 0.6, 1.9, -0.1, 1.2, 0.7, 0.2, 1.4, 0.8, 2.1, 0.4, 1.1, -0.3, 0.9, 1.6, 0.5, 1.3, 0.0],
  [0.6, -0.2, 1.1, 0.3, 1.4, -0.5, 0.8, 0.1, 1.7, 0.4, -0.3, 1.0, 0.2, 1.3, -0.6, 0.7, 0.0, 1.5, 0.5, 0.9],
  [0.4, -0.4, 0.9, 0.1, 1.2, -0.7, 0.6, -0.1, 1.0, 0.3, -0.9, 0.8, 0.2, 1.4, -0.3, 0.5, 1.1, -0.5, 0.7, 0.0],
  [0.5, -0.3, 1.0, 0.2, 1.3, -0.6, 0.7, 0.0, 1.1, 0.4, -0.5, 0.9, 1.5, -0.1, 0.6, 0.3, -0.8, 1.2, 0.1, 0.8],
  [0.2, 0.9, -0.4, 0.6, 1.2, -0.2, 0.4, -0.7, 1.0, 0.1, 0.7, -0.5, 1.4, 0.3, -0.1, 0.8, 0.0, 1.1, -0.3, 0.5],
  [0.7, -0.1, 1.2, 0.4, 1.5, -0.4, 0.9, 0.2, 1.3, 0.6, -0.6, 1.0, 0.3, 1.7, 0.0, 0.8, 0.5, -0.2, 1.1, 0.4],
  [1.0, 0.2, 1.6, 0.5, 1.3, -0.1, 1.8, 0.7, 0.3, 1.2, 0.9, 2.0, 0.4, 1.5, 0.0, 1.1, 0.6, 1.9, 0.8, 1.4],
  [1.2, 0.4, 1.8, 0.8, 1.5, 0.1, 2.0, 1.0, 0.6, 1.6, 0.3, 2.2, 0.9, 1.3, -0.1, 1.7, 0.7, 1.1, 0.2, 1.4],
  [0.8, 0.0, 1.3, 0.4, 1.6, -0.3, 1.0, 0.5, -0.1, 1.2, 0.7, 1.9, 0.2, 0.9, -0.5, 0.6, 1.4, 0.1, 0.8, 0.3],
  [0.3, -0.6, 0.8, -0.2, 0.5, -1.0, 0.1, 1.0, -0.4, 0.4, -0.8, 0.6, -1.3, 0.0, 0.7, -0.5, 0.2, -1.1, -0.3, 0.4],
  [-0.4, -1.3, 0.2, -0.9, -1.8, -0.2, -1.0, 0.3, -1.5, -0.6, -2.1, -0.3, -1.2, 0.0, -0.8, -1.7, -0.5, -2.3, -1.0, -0.1],
  [-1.1, -2.0, -0.6, -1.6, -2.5, -0.9, -1.4, -2.8, -0.5, -1.8, -1.2, -2.2, -0.8, -1.5, -3.0, -1.0, -1.9, -0.4, -2.4, -1.3],
  [-1.5, -2.4, -0.9, -2.0, -1.2, -2.9, -1.7, -0.7, -2.2, -1.4, -3.1, -1.0, -2.6, -1.8, -0.8, -2.3, -1.3, -3.3, -1.9, -1.1],
  [-1.7, -2.6, -1.1, -2.2, -0.9, -3.0, -1.6, -2.4, -1.2, -3.4, -2.0, -0.8, -2.7, -1.5, -2.1, -3.2, -1.0, -2.5, -1.8, -1.3],
];

const p3RowsB: number[][] = [
  [-1.6, -2.4, -1.0, -2.8, -2.0, -1.3, -2.5, -0.6, -1.8, -3.0, -2.2, -1.1, -1.5, -2.7, -0.9, -1.9, -1.2, -0.5, -1.4, -0.8],
  [-0.9, -0.3, -1.1, -1.6, -0.2, 0.0, -0.8, -1.3, -0.5, 0.4, -1.0, -1.9, -0.6, 0.1, -0.4, -1.2, -0.7, -0.1, -1.4, -0.3],
  [-0.5, 0.2, 0.6, -0.4, -0.9, 0.3, -0.2, -1.0, 0.0, 0.7, -0.6, -0.3, 0.4, -1.2, 0.1, -0.5, 0.8, -0.1, -0.8, 0.3],
  [-0.2, -0.9, 0.3, 0.9, -0.5, -0.1, 0.5, -1.1, -0.4, 0.2, -0.7, 0.6, -0.3, -1.3, 0.1, -0.6, 0.7, -0.2, -0.8, 0.4],
  [-0.8, -0.1, -0.5, 0.3, -1.2, -0.7, 0.0, -0.3, -1.0, 0.6, -0.6, -1.5, -0.2, 0.2, -0.9, -0.4, 0.5, -1.1, -0.6, -0.2],
  [-0.5, 0.1, -0.2, -1.0, 0.5, -0.6, 0.3, -0.4, -1.2, 0.7, -0.1, -0.7, 0.2, 0.9, -0.3, -0.9, 0.4, -0.5, 0.1, -0.8],
  [0.2, -0.3, 0.8, 0.4, -0.7, 0.6, 0.1, -0.2, 1.1, -0.5, 0.3, -0.9, 0.5, 0.0, -0.4, 1.2, 0.2, -0.6, 0.7, -0.1],
  [-0.4, -0.8, 0.0, -1.3, -0.5, 0.3, -0.9, -0.2, 0.5, -1.1, -0.6, 0.1, -1.4, -0.3, -0.8, 0.4, -0.1, -1.0, -0.5, 0.2],
  [-0.1, -0.5, 0.4, -1.0, 0.2, -0.3, 0.8, -0.7, 0.0, 0.5, -1.2, -0.2, 0.3, -0.6, 0.6, -0.9, 0.1, -0.4, 0.7, -0.2],
  [0.4, -0.2, 0.1, 0.7, -0.5, 0.9, 0.2, -0.8, 0.5, 1.1, -0.3, 0.3, -0.6, 0.8, 0.0, 1.0, -0.4, 0.6, 0.2, -0.1],
  [0.4, 1.0, 0.0, 0.8, 1.4, 0.3, 1.1, 0.6, -0.1, 1.3, 0.9, 0.4, 1.6, 1.0, 0.5, 1.9, 1.2, 0.7, 1.7, 1.1],
  [2.0, 1.4, 1.8, 2.6, 1.6, 1.2, 2.2, 1.5, 2.5, 1.3, 1.9, 0.8, 1.4, 0.6, 0.9, 0.1, 0.5, -0.4, 0.0, -0.9],
  [-1.2, -2.3, -1.5, -0.8, -1.9, -1.1, -2.2, -0.7, -1.6, -0.4, -1.2, -0.5, -0.9, -1.3, -0.2, -0.7, -1.0, 0.0, -0.6, -0.2],
  [-0.4, 0.2, -0.6, -0.1, 0.5, -0.9, -0.3, 0.4, -0.7, 0.0, 0.8, -0.5, -0.2, -1.1, 0.3, -0.4, 0.6, -0.8, -0.1, 0.1],
  [-0.1, 0.4, -0.5, 0.2, -0.2, 0.7, -0.7, -0.3, 0.5, -0.9, 0.1, 0.6, -0.4, 0.0, 0.9, -0.6, 0.3, -0.2, -1.0, 0.4],
  [-0.6, -0.3, -1.1, 0.0, -0.8, -0.2, -0.5, 0.3, -1.0, -0.4, -1.4, 0.1, -0.6, -0.1, -0.9, 0.2, -0.7, -1.2, 0.0, -0.5],
  [-0.3, 0.2, -0.1, -0.8, 0.4, -0.5, 0.7, -0.2, 0.1, -0.9, 0.5, -0.6, 0.0, 0.3, -0.4, 0.8, -0.7, 0.1, -0.3, 0.6],
  [0.1, 0.6, -0.3, 0.3, -0.7, 0.8, 0.0, -0.4, 0.5, 1.0, -0.2, 0.4, -0.6, 0.7, 0.2, -0.9, 0.9, -0.1, 0.5, 0.0],
  [0.2, 0.7, -0.2, 0.4, 1.0, -0.5, 0.6, 0.0, 0.9, -0.3, 0.5, 1.2, -0.1, 0.3, -0.6, 0.8, 0.1, 0.6, -0.4, 0.3],
  [0.0, 0.5, 0.2, -0.3, 0.8, 0.3, -0.5, 0.6, 1.0, 0.1, -0.1, 0.9, 0.4, -0.7, 0.7, 0.2, 1.1, -0.2, 0.5, 0.3],
  [0.4, 0.9, 0.1, 0.6, 1.1, 0.3, -0.2, 0.8, 0.5, 1.3, 0.2, 0.7, 1.0, -0.1, 0.6, 1.2, 0.4, 0.0, 0.9, 0.5],
  [0.6, 1.2, 0.9, 0.3, 1.4, 0.8, 0.1, 1.0, 1.6, 0.5, 0.8, 1.3, 0.2, 1.1, 1.7, 0.6, 0.9, 0.4, 1.2, 0.7],
  [1.0, 0.5, 0.8, 1.5, 0.3, 1.2, 0.7, 0.0, 1.3, 0.9, 0.4, 1.1, 1.7, 0.6, 0.9, 0.2, 1.4, 0.8, 0.5, 1.0],
  [0.3, 0.8, 0.0, 0.6, 1.0, 0.2, 0.5, -0.3, 0.9, 0.4, 0.7, 1.2, 0.1, 0.5, -0.2, 0.8, 0.3, 0.6, 1.0, 0.2],
  [0.4, 0.0, 0.7, 0.2, 0.9, -0.2, 0.5, 0.3, -0.5, 0.6, 1.0, 0.1, 0.4, -0.3, 0.8, 0.2, 0.6, 1.1, -0.1, 0.5],
  [0.1, 0.6, 0.3, -0.2, 0.8, 0.4, 0.0, 1.0, 0.5, -0.4, 0.7, 0.2, 0.9, 0.3, -0.1, 0.6, 1.1, 0.2, 0.4, 0.8],
  [0.3, -0.1, 0.5, 0.9, 0.0, 0.4, -0.4, 0.7, 0.2, 0.6, -0.2, 1.0, 0.3, 0.1, 0.8, -0.3, 0.4, 0.6, 0.0, 0.2],
  [0.1, 0.5, -0.2, 0.7, 0.3, 0.0, 0.9, -0.4, 0.4, 0.6, 0.2, -0.1, 1.0, 0.3, 0.5, -0.5, 0.7, 0.2, 0.4, -0.2],
  [0.3, 0.8, 0.1, 0.5, 1.0, 0.2, 0.7, -0.3, 0.6, 0.9, 0.2, -0.1, 0.8, 0.4, 1.2, 0.0, 0.5, 0.7, 0.3, 0.6],
  [0.4, 0.0, 0.6, 0.3, 0.8, 0.1, -0.2, 0.7, 0.5, 0.2, 0.9, -0.3, 0.4, 0.6, 0.0, 1.0, 0.3, 0.5, 0.2, 0.7],
  [0.2, 0.6, 0.0, 0.4, -0.2, 0.8, 0.3, 0.5, 1.0, 0.1, 0.4, -0.4, 0.7, 0.2, 0.6, 0.9, 0.0, 0.3, 0.5, 0.1],
  [0.5, 0.9, 0.3, 0.7, 1.2, 0.4, 0.8, 0.1, 1.0, 0.6, 0.2, 1.3, 0.5, 0.9, 0.0, 0.7, 1.1, 0.4, 0.6, 0.8],
  [0.7, 1.1, 0.5, 0.9, 1.4, 0.6, 1.0, 0.3, 1.2, 0.8, 1.5, 0.4, 0.9, 1.3, 0.6, 1.0, 0.2, 1.1, 0.7, 1.4],
  [1.1, 0.6, 0.9, 1.4, 0.4, 1.0, 0.7, 1.2, 0.2, 0.8, 1.5, 0.5, 1.0, 0.7, 1.3, 0.3, 0.9, 0.6, 1.1, 0.4],
  [0.3, 0.7, 0.1, 0.5, -0.1, 0.6, 0.2, 0.9, 0.4, 0.0, 0.7, 0.3, -0.3, 0.5, 0.8, 0.1, 0.4, 0.6, 0.0, 0.2],
  [0.1, -0.3, 0.4, 0.0, 0.6, -0.5, 0.2, 0.5, -0.2, 0.3, -0.6, 0.7, 0.0, 0.4, -0.4, 0.2, 0.6, -0.1, 0.3, -0.3],
  [0.0, 0.3, -0.5, 0.1, 0.5, -0.3, 0.2, -0.7, 0.4, 0.0, -0.2, 0.6, -0.4, 0.1, 0.7, -0.6, 0.2, 0.4, -0.1, 0.3],
  [0.6, 0.2, 0.9, 0.4, 0.7, 1.0, 0.1, 0.8, 0.5, 1.2, 0.3, 0.9, 0.6, 1.3, 0.4, 1.0, 0.7, 1.5, 0.9, 1.1],
  [1.1, 1.6, 0.8, 1.3, 1.8, 1.0, 1.4, 0.6, 1.7, 1.2, 2.0, 0.9, 1.5, 1.1, 1.9, 0.8, 1.4, 1.6, 1.0, 1.3],
  [1.3, 1.8, 1.1, 1.5, 2.0, 1.2, 1.6, 0.9, 1.9, 1.4, 1.1, 2.2, 1.5, 1.0, 1.7, 1.3, 1.9, 1.1, 1.6, 1.4],
  [1.2, 1.6, 0.9, 1.4, 1.1, 1.8, 0.7, 1.3, 1.5, 0.9, 1.6, 1.2, 2.0, 1.0, 1.4, 0.8, 1.3, 1.7, 1.1, 1.2],
  [0.8, 1.1, 0.5, 1.0, 1.3, 0.6, 0.9, 1.5, 0.4, 0.8, 1.2, 0.3, 1.0, 0.7, 1.4, 0.5, 0.9, 1.2, 0.6, 1.0],
  [0.8, 0.5, 1.1, 0.9, 1.4, 0.4, 0.7, 1.2, 0.6, 1.0, 1.5, 0.3, 0.8, 1.3, 0.6, 1.0, 0.2, 0.9, 1.1, 0.7],
  [0.5, 0.9, 0.2, 0.6, 1.0, 0.1, 0.7, 0.4, 1.1, 0.3, 0.8, 0.0, 0.5, 1.2, 0.4, 0.6, -0.2, 0.9, 0.3, 0.7],
  [0.2, 0.6, 0.0, 0.5, 0.8, -0.1, 0.4, 0.7, 0.2, 0.9, -0.3, 0.3, 0.6, 0.1, 1.0, 0.4, -0.2, 0.5, 0.3, 0.6],
  [0.3, 0.7, 0.1, 0.5, 0.9, 0.2, 0.6, -0.2, 0.8, 0.4, 0.0, 0.7, 1.0, 0.3, 0.5, -0.1, 0.6, 0.9, 0.2, 0.4],
  [0.4, 0.1, 0.6, 0.3, 0.8, 0.0, 0.5, -0.3, 0.7, 0.2, 0.9, 0.1, 0.4, -0.2, 0.6, 0.3, 1.0, 0.2, 0.5, 0.0],
  [0.5, 0.9, 0.3, 0.7, 1.0, 0.2, 0.6, 0.4, 1.1, 0.0, 0.8, 0.5, 1.2, 0.3, 0.6, 0.9, 0.1, 0.7, 0.4, 0.8],
  [0.8, 1.2, 0.5, 1.0, 0.7, 1.4, 0.4, 1.1, 0.9, 1.5, 0.6, 1.0, 0.3, 1.3, 0.8, 1.1, 0.5, 1.2, 0.9, 0.7],
  [1.0, 1.3, 0.7, 1.1, 1.5, 0.8, 1.2, 0.5, 1.4, 0.9, 1.6, 0.6, 1.1, 1.3, 0.7, 1.0, 1.4, 0.8, 1.2, 0.9],
  [0.6, 1.0, 0.3, 0.8, 1.1, 0.4, 0.7, 0.1, 0.9, 0.5, 1.2, 0.2, 0.6, 0.9, 0.3, 0.7, 0.0, 0.5, 0.4, 0.2],
  [0.1, -0.3, 0.4, 0.0, -0.5, 0.3, -0.2, 0.6, -0.6, 0.2, -0.1, -0.7, 0.1, -0.4, 0.3, -0.8, -0.2, 0.0, -0.5, -0.3],
  [-0.6, -1.0, -0.3, -1.4, -0.8, -0.5, -1.6, -0.9, -0.2, -1.2, -0.7, -1.5, -1.0, -0.4, -1.3, -0.9, -1.8, -1.1, -0.6, -1.4],
  [-1.4, -1.7, -1.0, -2.1, -1.5, -1.2, -2.3, -1.6, -0.9, -1.9, -1.3, -2.0, -1.7, -1.1, -2.6, -1.5, -1.8, -1.2, -2.2, -1.6],
  [-1.8, -1.4, -2.1, -1.6, -2.5, -1.9, -1.3, -2.3, -1.7, -2.0, -1.5, -2.7, -1.8, -1.2, -2.2, -1.9, -2.6, -1.6, -2.0, -1.4],
  [-2.0, -1.6, -2.3, -1.9, -2.8, -1.4, -2.1, -2.5, -1.7, -2.2, -1.3, -2.6, -1.9, -2.4, -1.6, -2.9, -2.0, -1.5, -2.3, -2.1],
];

const p3RowsC: number[][] = [
  [0.6, -2.9, 0.1, -4.0, -0.3, -3.3, 1.1, -2.6],
  [-2.6, 0.6, -3.1, 1.3, -1.9, 1.8, -2.3, 0.8],
  [1.1, -2.5, 2.1, -1.6, 1.5, -2.9, 0.8, -2.0],
  [1.8, -1.7, 1.3, -2.8, 0.9, -2.1, 2.3, -1.4],
  [-2.4, 0.8, -2.9, 1.5, -1.7, 2.0, -2.1, 1.0],
  [1.3, -2.4, 2.0, -1.8, 1.4, -2.7, 0.9, -2.1],
  [2.1, -1.4, 1.6, -2.5, 1.2, -1.8, 2.6, -1.1],
  [-2.3, 0.9, -2.8, 1.4, -1.8, 1.9, -2.2, 1.1],
  [1.2, -2.4, 2.2, -1.5, 1.6, -2.8, 0.9, -1.9],
  [2.0, -1.5, 1.7, -2.4, 1.1, -1.9, 2.5, -1.2],
  [-1.0, 2.2, -1.5, 2.9, -0.3, 3.4, -0.7, 2.4],
  [2.6, -1.0, 3.3, -0.5, 2.4, -1.8, 0.9, -2.2],
  [1.1, -2.4, 0.6, -3.5, 0.2, -2.8, 1.6, -2.1],
  [-2.2, 1.0, -2.7, 1.7, -1.5, 2.2, -1.9, 1.2],
  [1.3, -2.3, 2.1, -1.6, 1.7, -2.7, 1.0, -2.0],
  [1.6, -1.9, 1.1, -3.0, 0.7, -2.3, 2.1, -1.6],
  [-2.1, 1.1, -2.6, 1.8, -1.4, 2.3, -1.8, 1.3],
  [1.4, -2.2, 2.4, -1.3, 1.8, -2.6, 1.1, -1.7],
  [2.3, -1.2, 1.8, -2.3, 1.4, -1.6, 2.8, -0.9],
  [-1.7, 1.5, -2.2, 2.2, -1.0, 2.7, -1.4, 1.7],
  [1.9, -1.7, 2.9, -0.8, 2.3, -2.1, 1.6, -1.2],
  [2.9, -0.6, 2.4, -1.7, 2.0, -1.0, 3.4, -0.3],
  [-1.1, 2.1, -1.6, 2.8, -0.4, 3.3, -0.8, 2.3],
  [1.8, -1.8, 2.8, -0.9, 2.2, -2.2, 1.5, -1.3],
  [2.4, -1.1, 1.9, -2.2, 1.5, -1.5, 2.9, -0.8],
  [-1.6, 1.6, -2.1, 2.3, -0.9, 2.8, -1.3, 1.8],
  [1.6, -2.0, 2.6, -1.1, 2.0, -2.4, 1.3, -1.5],
  [2.3, -1.2, 1.8, -2.3, 1.4, -1.6, 2.8, -0.9],
  [-1.5, 1.7, -2.0, 2.4, -0.8, 2.9, -1.2, 1.9],
  [1.7, -1.9, 2.7, -1.0, 2.1, -2.3, 1.4, -1.4],
  [2.4, -1.1, 1.9, -2.2, 1.5, -1.5, 2.9, -0.8],
  [-1.3, 1.9, -1.8, 2.6, -0.6, 3.1, -1.0, 2.1],
  [2.2, -1.4, 3.2, -0.5, 2.6, -1.8, 1.9, -0.9],
  [2.9, -0.6, 2.4, -1.7, 2.0, -1.0, 3.4, -0.3],
  [-1.6, 1.6, -2.1, 2.3, -0.9, 2.8, -1.3, 1.8],
  [1.4, -2.2, 2.4, -1.3, 1.8, -2.6, 1.1, -1.7],
  [2.1, -1.4, 1.6, -2.5, 1.2, -1.8, 2.6, -1.1],
  [-1.3, 1.9, -1.8, 2.6, -0.6, 3.1, -1.0, 2.1],
  [2.6, -1.0, 3.6, -0.1, 3.0, -1.4, 2.3, -0.5],
  [3.5, 0.0, 3.0, -1.1, 2.6, -0.4, 4.0, 0.3],
  [-0.7, 2.5, -1.2, 3.2, 0.0, 3.7, -0.4, 2.7],
  [2.2, -1.4, 3.2, -0.5, 2.6, -1.8, 1.9, -0.9],
  [2.9, -0.6, 2.4, -1.7, 2.0, -1.0, 3.4, -0.3],
  [-1.4, 1.8, -1.9, 2.5, -0.7, 3.0, -1.1, 2.0],
  [1.7, -1.9, 2.7, -1.0, 2.1, -2.3, 1.4, -1.4],
  [2.5, -1.0, 2.0, -2.1, 1.6, -1.4, 3.0, -0.7],
  [-1.6, 1.6, -2.1, 2.3, -0.9, 2.8, -1.3, 1.8],
  [1.9, -1.7, 2.9, -0.8, 2.3, -2.1, 1.6, -1.2],
  [2.9, -0.6, 2.4, -1.7, 2.0, -1.0, 3.4, -0.3],
  [-0.9, 2.3, -1.4, 3.0, -0.2, 3.5, -0.6, 2.5],
  [2.0, -1.6, 3.0, -0.7, 2.4, -2.0, 1.7, -1.1],
  [2.1, -1.4, 1.6, -2.5, 1.2, -1.8, 2.6, -1.1],
  [-2.7, 0.5, -3.2, 1.2, -2.0, 1.7, -2.4, 0.7],
  [-0.1, -3.7, 0.9, -2.8, 0.3, -4.1, -0.4, -3.2],
  [0.3, -3.2, -0.2, -4.3, -0.6, -3.6, 0.8, -2.9],
  [-3.9, -0.7, -4.4, 0.0, -3.2, 0.5, -3.6, -0.5],
];

const p3ExtraDay = [
  52168.4, 52171.3, 52174.5, 52177.3, 52177.3, 52177.9, 52178.3, 52179.3, 52181.3, 52182.2,
  52185.6, 52188.0, 52198.8, 52200.4, 52201.7, 52204.9, 52211.2, 52214.8, 52214.9, 52218.0, 52219.5,
];
const p3ExtraVal = [
  -4.1, 6.3, -4.1, 7.0, 4.4, 4.5, 7.0, 5.5, 3.5, 5.9,
  -4.2, 4.5, -3.1, -3.0, 3.9, 4.8, 4.7, 4.9, 5.1, -2.9, -4.0,
];

// ---------- layout ----------
const W = 990;
const H = 493;
const plotLeft = 65;
const plotRight = 997;
const plotTop = 39;
const plotBottom = 435;
const FONT = "Liberation Serif";

function flatten(rows: number[][], perDay: number, offset: number) {
  const out: { d: number; v: number }[] = [];
  rows.forEach((row, k) => {
    row.forEach((v, j) => {
      const d = firstDay + k + (j + offset) / perDay;
      if (d <= lastDay) out.push({ d, v });
    });
  });
  return out;
}

export default function App() {
  const x = d3.scaleLinear().domain([52167.5, 52224]).range([plotLeft, plotRight]);
  const y = d3.scaleLinear().domain([-20, 40]).range([plotBottom, plotTop]);

  const caPts = flatten(caRowsA, 20, 0)
    .concat(flatten(caRowsB, 20, 0.5))
    .concat(flatten(caRowsC, 8, 0.25))
    .concat(caExtraDay.map((d, i) => ({ d, v: caExtraVal[i] })));
  const p3Pts = flatten(p3RowsA, 20, 0)
    .concat(flatten(p3RowsB, 20, 0.5))
    .concat(flatten(p3RowsC, 8, 0.6))
    .concat(p3ExtraDay.map((d, i) => ({ d, v: p3ExtraVal[i] })));

  const majorLen = 10;
  const minorLen = 5;
  const ts = { fontFamily: FONT };

  return (
    <svg
      width={W}
      height={H}
      viewBox={`0 0 ${W} ${H}`}
      style={{ position: "absolute", left: 0, top: 0, background: "#fff" }}
    >
      <rect x={0} y={0} width={W} height={H} fill="#fff" />

      {/* C/A points */}
      <g fill="none" stroke="#000" strokeWidth={1}>
        {caPts.map((p, i) => (
          <circle key={i} cx={x(p.d)} cy={y(p.v)} r={3.4} />
        ))}
      </g>

      {/* P3 points */}
      <g fill="#000">
        {p3Pts.map((p, i) => (
          <circle key={i} cx={x(p.d)} cy={y(p.v)} r={1.1} />
        ))}
      </g>

      {/* frame */}
      <rect
        x={plotLeft}
        y={plotTop}
        width={plotRight - plotLeft}
        height={plotBottom - plotTop}
        fill="none"
        stroke="#000"
        strokeWidth={2}
      />

      {/* ticks */}
      <g stroke="#000" strokeWidth={1}>
        {xMajorTicks.map((t) => (
          <g key={"xm" + t}>
            <line x1={x(t)} x2={x(t)} y1={plotBottom} y2={plotBottom - majorLen} />
            <line x1={x(t)} x2={x(t)} y1={plotTop} y2={plotTop + majorLen} />
          </g>
        ))}
        {xMinorTicks.map((t) => (
          <g key={"xn" + t}>
            <line x1={x(t)} x2={x(t)} y1={plotBottom} y2={plotBottom - minorLen} />
            <line x1={x(t)} x2={x(t)} y1={plotTop} y2={plotTop + minorLen} />
          </g>
        ))}
        {yMajorTicks.map((t) => (
          <g key={"ym" + t}>
            <line x1={plotLeft} x2={plotLeft + majorLen} y1={y(t)} y2={y(t)} />
            <line x1={plotRight} x2={plotRight - majorLen} y1={y(t)} y2={y(t)} />
          </g>
        ))}
        {yMinorTicks.map((t) => (
          <g key={"yn" + t}>
            <line x1={plotLeft} x2={plotLeft + minorLen} y1={y(t)} y2={y(t)} />
            <line x1={plotRight} x2={plotRight - minorLen} y1={y(t)} y2={y(t)} />
          </g>
        ))}
      </g>

      {/* tick labels */}
      <g fill="#000">
        {xMajorTicks.map((t) => (
          <text key={"xl" + t} x={x(t)} y={458} textAnchor="middle" fontSize={25} style={ts}>
            {t}
          </text>
        ))}
        {yMajorTicks.map((t) => (
          <text key={"yl" + t} x={62} y={y(t) + 8} textAnchor="end" fontSize={25} style={ts}>
            {t}
          </text>
        ))}
      </g>

      {/* titles */}
      <text x={532.5} y={25} textAnchor="middle" fontSize={24.4} fill="#000" style={{ ...ts, whiteSpace: "pre" }}>
        {title}
      </text>
      <text x={532} y={487} textAnchor="middle" fontSize={29.5} fill="#000" style={ts}>
        {xLabel}
      </text>
      <text transform="translate(33,237) rotate(-90)" textAnchor="middle" fontSize={30} fill="#000" style={ts}>
        {yLabel}
      </text>

      {/* legend */}
      <g>
        <rect x={94.5} y={350.5} width={594} height={61} fill="#fff" stroke="#000" strokeWidth={1} />
        <circle cx={110} cy={367} r={2.7} fill="none" stroke="#000" strokeWidth={1} />
        <circle cx={110} cy={395} r={1} fill="#000" />
        <text x={133} y={374} fontSize={25.2} fill="#000" style={{ ...ts, whiteSpace: "pre" }}>
          {legendLabels[0]}
        </text>
        <text x={133} y={402} fontSize={25.2} fill="#000" style={{ ...ts, whiteSpace: "pre" }}>
          {legendLabels[1]}
        </text>
      </g>
    </svg>
  );
}
